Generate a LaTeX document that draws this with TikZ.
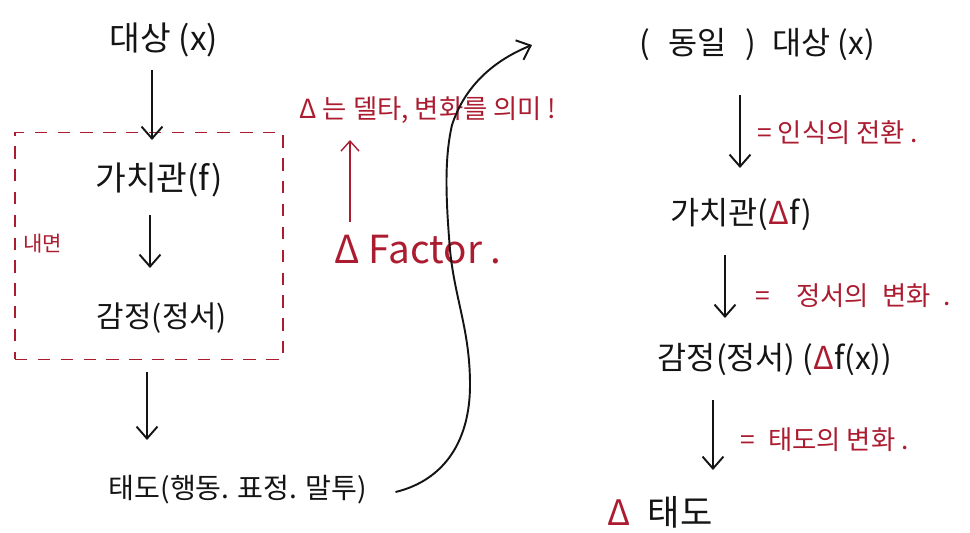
\documentclass[tikz,border=0pt]{standalone}
\usepackage{fontspec}
\setmainfont{Noto Sans CJK KR}
\usetikzlibrary{arrows.meta,calc}
\definecolor{inkred}{RGB}{172,28,48}
\definecolor{ink}{RGB}{20,20,20}

\begin{document}
\begin{tikzpicture}[
  x=0.02cm, y=-0.02cm,
  >={Straight Barb[length=2.4mm,width=4.2mm]},
  T/.style={inner sep=0pt, font=\fontsize{#1}{#1}\selectfont, text=ink},
  T/.default=18,
  R/.style={inner sep=0pt, font=\fontsize{#1}{#1}\selectfont, text=inkred},
  R/.default=15,
  flow/.style={->, draw=ink, line width=1.1pt},
  hint/.style={-{Straight Barb[length=2mm,width=3.6mm]}, draw=inkred, line width=0.8pt},
  frame/.style={draw=inkred, dash pattern=on 7pt off 6pt, line width=0.8pt,
                minimum width=5.36cm, minimum height=4.54cm},
]
\useasboundingbox (0,0) rectangle (970,532);

% left column
\node[T=19] (obj) at (164,40) {대상 (x)};
\node[T=19] (val) at (159,180) {가치관(f)};
\node[T=17] (emo) at (162,318) {감정(정서)};
\node[T=16] (att) at (238,490) {태도(행동. 표정. 말투)};

% inner side, dashed
\node[frame] (inner) at (149,246) {};
\node[R=12, anchor=west] (innerlbl) at (23,244) {내면};

\draw[flow] ($(obj)+(-12,30)$) -- ($(val)+(-7,-40)$);
\draw[flow] ($(val)+(-9,35)$) -- ($(emo)+(-12,-50)$);
\draw[flow] ($(inner.south)+(-2,12)$) -- ($(att)+(-91,-50)$);

% delta note
\node[R] (note) at (428,110) {Δ 는 델타, 변화를 의미 !};
\node[R=22] (fac) at (418,250) {Δ Factor .};
\draw[hint] ($(fac)+(-68,-28)$) -- ($(note)+(-78,30)$);

% long curve over to the right
\coordinate (tip) at (532,45);
\draw[flow] ($(att.east)+(28,2)$) .. controls (445,480) and (470,440) .. (470,385)
    .. controls (470,330) and (455,300) .. (450,250)
    .. controls (446,200) and (444,160) .. (452,125)
    .. controls (465,85) and (495,60) .. (tip);

% right column
\node[T] (same) at (757,45) {(\hspace{0.6em}동일\hspace{0.6em})\enspace 대상 (x)};
\node[T] (val2) at (741,215) {가치관(\textcolor{inkred}{Δ}f)};
\node[T] (emo2) at (775,360) {감정(정서) (\textcolor{inkred}{Δ}f(x))};
\node[T=20] (att2) at (660,512) {\textcolor{inkred}{Δ}\enspace 태도};

\draw[flow] ($(same)+(-17,50)$) -- ($(val2)+(-1,-47)$);
\draw[flow] ($(val2)+(-16,40)$) -- ($(emo2)+(-50,-42)$);
\draw[flow] ($(emo2)+(-62,40)$) -- ($(att2)+(53,-42)$);

\node[R, anchor=west] (shift) at (757,133) {= 인식의 전환 .};
\node[R, anchor=west] (mood) at (755,296) {=\quad 정서의\enspace 변화\enspace .};
\node[R, anchor=west] (turn) at (740,440) {=\enspace 태도의 변화 .};

\end{tikzpicture}
\end{document}
